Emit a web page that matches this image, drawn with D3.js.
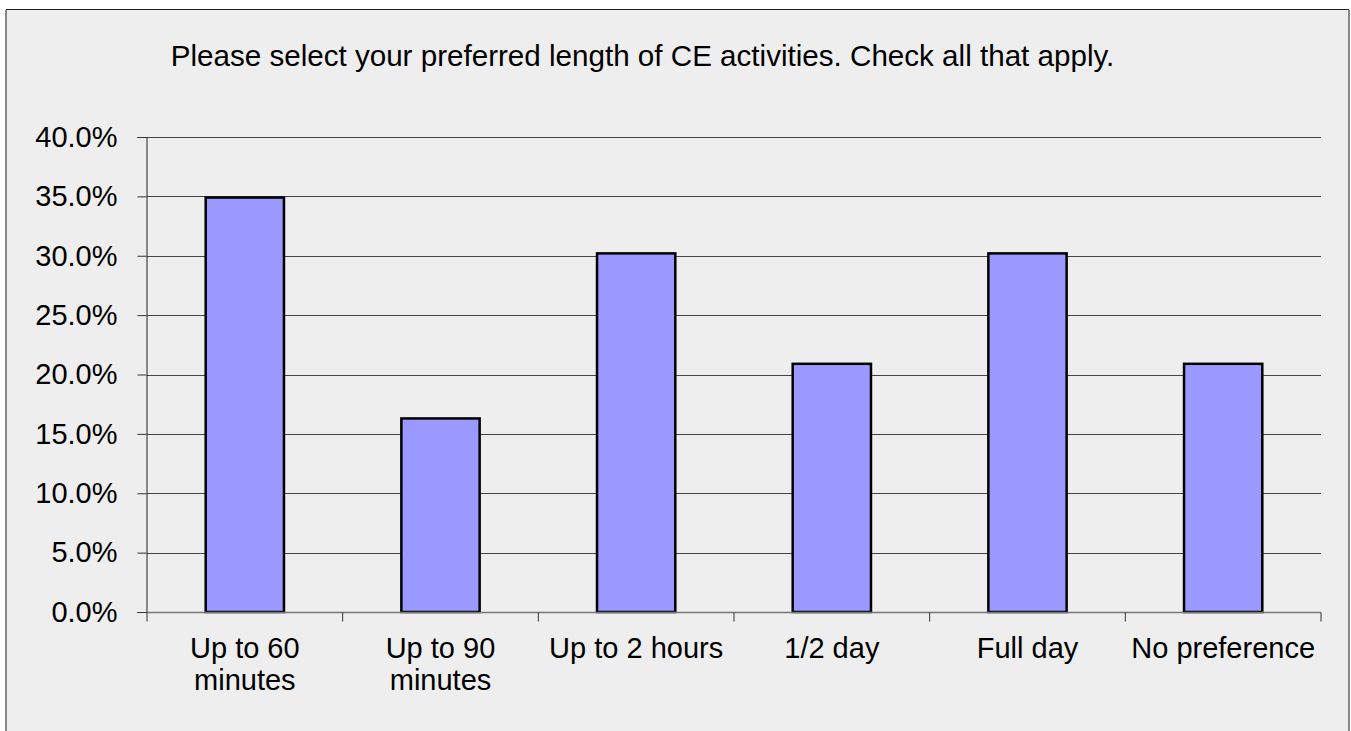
<!DOCTYPE html>
<html>
<head>
<meta charset="utf-8">
<script src="https://cdn.jsdelivr.net/npm/d3@7"></script>
<style>
  body { margin: 0; background: #fff; }
  svg { display: block; font-family: "Liberation Sans", Arial, sans-serif; }
</style>
</head>
<body>
<svg id="chart" width="1351" height="731"></svg>
<script>
var categories = [['Up to 60', 'minutes'], ['Up to 90', 'minutes'], ['Up to 2 hours'], ['1/2 day'], ['Full day'], ['No preference']];
var values = [34.9, 16.3, 30.2, 20.9, 30.2, 20.9];
var yTicks = [0, 5, 10, 15, 20, 25, 30, 35, 40];
var title = 'Please select your preferred length of CE activities. Check all that apply.';

var plotLeft = 147, plotRight = 1321, plotTop = 137, plotBottom = 612;
var fontSize = '29px';
var svg = d3.select('#chart');

// frame
svg.append('rect')
    .attr('x', 6.5).attr('y', 9.5)
    .attr('width', 1342).attr('height', 740)
    .style('fill', '#eeeeee')
    .style('stroke', '#222');
svg.append('line')
    .attr('x1', 1349).attr('x2', 1349).attr('y1', 10).attr('y2', 731)
    .style('stroke', '#888').style('stroke-width', 2);
svg.append('line')
    .attr('x1', 6).attr('x2', 6).attr('y1', 10).attr('y2', 731)
    .style('stroke', '#888').style('stroke-width', 2);

var xScale = d3.scaleBand()
    .domain(d3.range(categories.length))
    .range([plotLeft, plotRight])
    .paddingInner(0.6)
    .paddingOuter(0.3);
var xBand = d3.scaleBand()
    .domain(d3.range(categories.length))
    .range([plotLeft, plotRight]);
var yScale = d3.scaleLinear().domain([0, 40]).range([plotBottom, plotTop]);

// gridlines
svg.append('g')
    .selectAll('line')
    .data(yTicks.slice(1))
    .join('line')
    .attr('x1', plotLeft).attr('x2', plotRight)
    .attr('y1', function(d) { return Math.round(yScale(d)) + 0.5; })
    .attr('y2', function(d) { return Math.round(yScale(d)) + 0.5; })
    .style('stroke', '#444')
    .style('stroke-width', 1.2);

// y axis
var yAxis = d3.axisLeft(yScale)
    .tickValues(yTicks)
    .tickSize(9)
    .tickPadding(20)
    .tickFormat(function(d) { return d.toFixed(1) + '%'; });
var yg = svg.append('g')
    .attr('transform', 'translate(' + (plotLeft - 0.5) + ',0)')
    .call(yAxis);
yg.selectAll('.tick line').style('stroke', '#333');
yg.select('.domain').style('stroke', '#222');
yg.selectAll('text')
    .style('font-size', fontSize)
    .style('fill', '#000')
    .style('font-family', '"Liberation Sans", Arial, sans-serif');

// bars
svg.append('g')
    .selectAll('rect')
    .data(values)
    .join('rect')
    .attr('x', function(d, i) { return xScale(i); })
    .attr('y', function(d) { return yScale(d); })
    .attr('width', xScale.bandwidth())
    .attr('height', function(d) { return yScale(0) - yScale(d); })
    .style('fill', '#9999ff')
    .style('stroke', '#000')
    .style('stroke-width', 2.5);

// x axis
var xg = svg.append('g').attr('transform', 'translate(0,' + (plotBottom + 0.5) + ')');
xg.append('line')
    .attr('x1', plotLeft).attr('x2', plotRight)
    .style('stroke', '#777').style('stroke-width', 1.5);
xg.selectAll('.tk')
    .data(d3.range(categories.length + 1))
    .join('line')
    .attr('class', 'tk')
    .attr('x1', function(d) { return plotLeft + d * xBand.step(); })
    .attr('x2', function(d) { return plotLeft + d * xBand.step(); })
    .attr('y1', 0).attr('y2', 9)
    .style('stroke', '#333');

xg.selectAll('text')
    .data(categories)
    .join('text')
    .attr('x', function(d, i) { return xBand(i) + xBand.bandwidth() / 2; })
    .attr('y', 45)
    .attr('text-anchor', 'middle')
    .style('font-size', fontSize)
    .style('fill', '#000')
    .each(function(d) {
        var t = d3.select(this);
        d.forEach(function(line, j) {
            t.append('tspan')
                .attr('x', t.attr('x'))
                .attr('dy', j === 0 ? 0 : 32)
                .text(line);
        });
    });

// title
svg.append('text')
    .attr('x', 642.5)
    .attr('y', 66)
    .attr('text-anchor', 'middle')
    .style('font-size', '29.6px')
    .style('fill', '#000')
    .text(title);
</script>
</body>
</html>
